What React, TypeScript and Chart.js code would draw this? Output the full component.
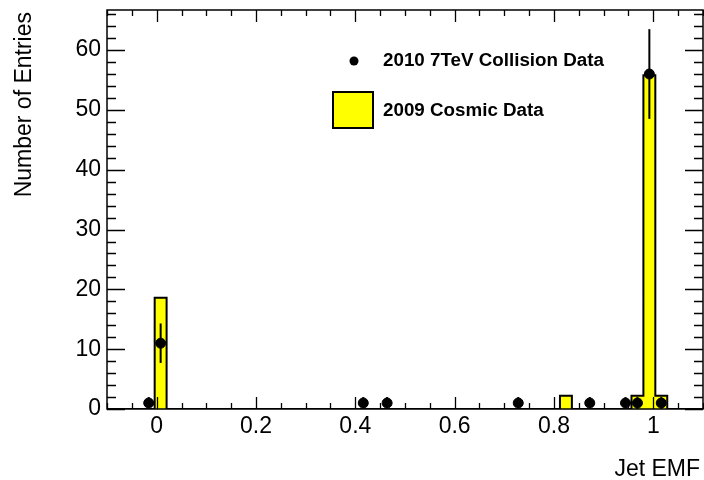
import React, { useEffect, useRef } from "react";
import { Chart, registerables } from "chart.js";

Chart.register(...registerables);

// Histogram binning (50 bins from -0.1 to 1.1)
const BIN_LOW = -0.1;
const BIN_WIDTH = 0.024;
const N_BINS = 50;

// 2009 Cosmic Data (non-empty bins: index -> normalised content)
const cosmicBins = [4, 38, 44, 45, 46];
const cosmicValues = [18.6, 2.2, 2.2, 55.8, 2.2];

// 2010 7TeV Collision Data (bin centres, counts, errors)
const collisionX = [-0.016, 0.008, 0.416, 0.464, 0.728, 0.872, 0.944, 0.968, 0.992, 1.016];
const collisionY = [1, 11, 1, 1, 1, 1, 1, 1, 56, 1];
const collisionErr = [1, 3.3, 1, 1, 1, 1, 1, 1, 7.5, 1];

const xTickValues = [0, 0.2, 0.4, 0.6, 0.8, 1];
const yTickValues = [0, 10, 20, 30, 40, 50, 60];
const X_MIN = -0.1;
const X_MAX = 1.1;
const Y_MIN = 0;
const Y_MAX = 66.7;

const xTitle = "Jet EMF";
const yTitle = "Number of Entries";
const legendCollision = "2010 7TeV Collision Data";
const legendCosmic = "2009 Cosmic Data";

const FONT = "'Liberation Sans', Arial, Helvetica, sans-serif";

function buildCosmicSteps() {
  const pts: { x: number; y: number }[] = [];
  for (let k = 0; k <= N_BINS; k++) {
    const idx = cosmicBins.indexOf(k);
    pts.push({ x: BIN_LOW + k * BIN_WIDTH, y: idx >= 0 ? cosmicValues[idx] : 0 });
  }
  return pts;
}

const rootPlugin = {
  id: "rootStyle",
  afterDatasetsDraw(chart: any) {
    const ctx = chart.ctx;
    const xs = chart.scales.x;
    const ys = chart.scales.y;
    ctx.save();
    ctx.strokeStyle = "#000";
    ctx.lineWidth = 2;
    for (let i = 0; i < collisionX.length; i++) {
      const px = xs.getPixelForValue(collisionX[i]);
      const y1 = ys.getPixelForValue(Math.max(collisionY[i] - collisionErr[i], 0));
      const y2 = ys.getPixelForValue(collisionY[i] + collisionErr[i]);
      ctx.beginPath();
      ctx.moveTo(px, y1);
      ctx.lineTo(px, y2);
      ctx.stroke();
    }
    ctx.restore();
  },
  afterDraw(chart: any) {
    const ctx = chart.ctx;
    const a = chart.chartArea;
    const xs = chart.scales.x;
    const ys = chart.scales.y;
    ctx.save();
    ctx.strokeStyle = "#000";
    ctx.lineWidth = 1.5;
    ctx.strokeRect(a.left, a.top, a.right - a.left, a.bottom - a.top);
    ctx.lineWidth = 1.3;
    // x ticks (bottom and top, inward)
    for (let i = 0; i <= 24; i++) {
      const v = X_MIN + i * 0.05;
      const px = Math.round(xs.getPixelForValue(v)) + 0.5;
      const isMajor = xTickValues.some((t) => Math.abs(t - v) < 1e-6);
      const len = isMajor ? 12 : 6;
      ctx.beginPath();
      ctx.moveTo(px, a.bottom);
      ctx.lineTo(px, a.bottom - len);
      ctx.moveTo(px, a.top);
      ctx.lineTo(px, a.top + len);
      ctx.stroke();
    }
    // y ticks (left and right, inward)
    for (let v = 0; v <= Y_MAX; v += 2) {
      const py = Math.round(ys.getPixelForValue(v)) + 0.5;
      const isMajor = v % 10 === 0;
      const len = isMajor ? 18 : 9;
      ctx.beginPath();
      ctx.moveTo(a.left, py);
      ctx.lineTo(a.left + len, py);
      ctx.moveTo(a.right, py);
      ctx.lineTo(a.right - len, py);
      ctx.stroke();
    }
    // axis titles
    ctx.fillStyle = "#000";
    ctx.font = `23px ${FONT}`;
    ctx.textAlign = "right";
    ctx.textBaseline = "alphabetic";
    ctx.fillText(xTitle, 700, 476);
    ctx.save();
    ctx.translate(31, 12);
    ctx.rotate(-Math.PI / 2);
    ctx.textAlign = "right";
    ctx.textBaseline = "alphabetic";
    ctx.fillText(yTitle, 0, 0);
    ctx.restore();
    // legend
    ctx.beginPath();
    ctx.arc(354, 61, 4.5, 0, Math.PI * 2);
    ctx.fill();
    ctx.fillStyle = "#ffff00";
    ctx.fillRect(333, 92, 40, 36);
    ctx.lineWidth = 2;
    ctx.strokeRect(333, 92, 40, 36);
    ctx.fillStyle = "#000";
    ctx.font = `bold 18.8px ${FONT}`;
    ctx.textAlign = "left";
    ctx.textBaseline = "middle";
    ctx.fillText(legendCollision, 383, 61);
    ctx.fillText(legendCosmic, 383, 111);
    ctx.restore();
  },
};

export default function App() {
  const ref = useRef<HTMLCanvasElement | null>(null);
  useEffect(() => {
    if (!ref.current) return;
    const chart = new Chart(ref.current, {
      type: "line",
      data: {
        datasets: [
          {
            type: "scatter",
            label: legendCollision,
            data: collisionX.map((x, i) => ({ x, y: collisionY[i] })),
            backgroundColor: "#000",
            borderColor: "#000",
            pointRadius: 5,
            pointHoverRadius: 5,
            order: 0,
          } as any,
          {
            type: "line",
            label: legendCosmic,
            data: buildCosmicSteps(),
            stepped: "before",
            fill: "origin",
            backgroundColor: "#ffff00",
            borderColor: "#000",
            borderWidth: 2,
            pointRadius: 0,
            tension: 0,
            order: 1,
          } as any,
        ],
      },
      options: {
        animation: false,
        responsive: false,
        devicePixelRatio: 1,
        layout: { autoPadding: false, padding: { top: 10, right: 1, left: 0, bottom: 0 } },
        plugins: { legend: { display: false }, tooltip: { enabled: false } },
        scales: {
          x: {
            type: "linear",
            min: X_MIN,
            max: X_MAX,
            grid: { display: false, drawTicks: false },
            border: { display: false },
            afterBuildTicks: (s: any) => {
              s.ticks = xTickValues.map((v) => ({ value: v }));
            },
            afterFit: (s: any) => {
              s.height = 71;
              s.paddingLeft = 0;
              s.paddingRight = 0;
            },
            ticks: {
              autoSkip: false,
              maxRotation: 0,
              padding: 4,
              color: "#000",
              font: { family: FONT, size: 23 },
              callback: (v: any) => String(Math.round(Number(v) * 10) / 10),
            },
          },
          y: {
            type: "linear",
            min: Y_MIN,
            max: Y_MAX,
            grid: { display: false, drawTicks: false },
            border: { display: false },
            afterBuildTicks: (s: any) => {
              s.ticks = yTickValues.map((v) => ({ value: v }));
            },
            afterFit: (s: any) => {
              s.width = 107;
              s.paddingTop = 0;
              s.paddingBottom = 0;
            },
            ticks: {
              autoSkip: false,
              padding: 6,
              color: "#000",
              font: { family: FONT, size: 23 },
              callback: (v: any) => String(v),
            },
          },
        },
      },
      plugins: [rootPlugin],
    });
    return () => chart.destroy();
  }, []);
  return (
    <div style={{ position: "fixed", left: 0, top: 0, width: 704, height: 480, background: "#fff" }}>
      <canvas ref={ref} width={704} height={480} />
    </div>
  );
}
